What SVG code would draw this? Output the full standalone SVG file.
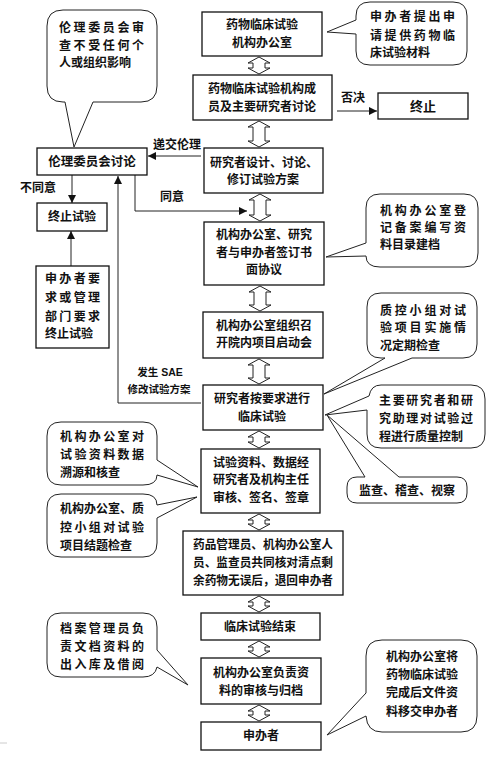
<svg xmlns="http://www.w3.org/2000/svg" width="496" height="765" viewBox="0 0 496 765">
<style>
text{font-family:"Liberation Sans","Noto Sans CJK SC",sans-serif;font-weight:bold;font-size:12px;fill:#111;dominant-baseline:central}
.c{text-anchor:middle}
.box{fill:#fff;stroke:#111;stroke-width:1.3}
.call{fill:#fff;stroke:#222;stroke-width:1}
.dbl{fill:#fff;stroke:#222;stroke-width:1}
.ln{fill:none;stroke:#222;stroke-width:1}
.sm{font-size:10.5px}
</style>
<defs>
<marker id="ah" viewBox="0 0 10 10" refX="10" refY="5" markerWidth="8" markerHeight="8" markerUnits="userSpaceOnUse" orient="auto"><path d="M0,0 L10,5 L0,10 z" fill="#111"/></marker>
<path id="dblarrow" d="M0,0 L11,6 L6,6 L6,-6 L11,-6 L0,0 Z"/>
</defs>
<rect width="496" height="765" fill="#fff"/>

<g id="connectors">
<path class="dbl" d="M259,57 L270,63 L265,63 L265,68 L270,68 L259,74 L248,68 L253,68 L253,63 L248,63 Z"/>
<path class="dbl" d="M259,121 L270,127 L265,127 L265,141 L270,141 L259,147 L248,141 L253,141 L253,127 L248,127 Z"/>
<path class="dbl" d="M260,194 L271,200 L266,200 L266,215 L271,215 L260,221 L249,215 L254,215 L254,200 L249,200 Z"/>
<path class="dbl" d="M260,286 L271,292 L266,292 L266,305 L271,305 L260,311 L249,305 L254,305 L254,292 L249,292 Z"/>
<path class="dbl" d="M259,359 L270,365 L265,365 L265,378 L270,378 L259,384 L248,378 L253,378 L253,365 L248,365 Z"/>
<path class="dbl" d="M259,431 L270,437 L265,437 L265,442 L270,442 L259,448 L248,442 L253,442 L253,437 L248,437 Z"/>
<path class="dbl" d="M259,514 L270,520 L265,520 L265,524 L270,524 L259,530 L248,524 L253,524 L253,520 L248,520 Z"/>
<path class="dbl" d="M259,596 L270,602 L265,602 L265,606 L270,606 L259,612 L248,606 L253,606 L253,602 L248,602 Z"/>
<path class="dbl" d="M259,641 L270,647 L265,647 L265,651 L270,651 L259,657 L248,651 L253,651 L253,647 L248,647 Z"/>
<path class="dbl" d="M259,705 L270,711 L265,711 L265,715 L270,715 L259,721 L248,715 L253,715 L253,711 L248,711 Z"/>

<line class="ln" x1="337" y1="111" x2="377" y2="111" marker-end="url(#ah)"/>
<line class="ln" x1="201" y1="156" x2="148" y2="156" marker-end="url(#ah)"/>
<polyline class="ln" points="135,175 135,211 247,211" marker-end="url(#ah)"/>
<line class="ln" x1="72" y1="175" x2="72" y2="203" marker-end="url(#ah)"/>
<line class="ln" x1="71" y1="266" x2="71" y2="231" marker-end="url(#ah)" stroke="#444"/>
<polyline class="ln" points="201,403 118,403 118,176" marker-end="url(#ah)"/>

<text class="c" x="353" y="98">否决</text>
<text class="c" x="177" y="145">递交伦理</text>
<text class="c" x="172" y="197">同意</text>
<text class="c" x="38" y="188">不同意</text>
<text class="c sm" x="160" y="372">发生 SAE</text>
<text class="c sm" x="159" y="389">修改试验方案</text>
</g>

<g id="n1"><rect class="box" x="202" y="12" width="120" height="44"/>
<text class="c" x="262" y="25">药物临床试验</text><text class="c" x="262" y="43">机构办公室</text></g>

<g id="n2"><rect class="box" x="193" y="75" width="139" height="45"/>
<text class="c" x="262" y="89">药物临床试验机构成</text><text class="c" x="262" y="107">员及主要研究者讨论</text></g>

<g id="n3"><rect class="box" x="378" y="93" width="90" height="26"/>
<text class="c" x="423" y="106" style="font-size:13px">终止</text></g>

<g id="n4"><rect class="box" x="204" y="148" width="119" height="45"/>
<text class="c" x="264" y="163">研究者设计、讨论、</text><text class="c" x="263" y="180">修订试验方案</text></g>

<g id="n5"><rect class="box" x="37" y="148" width="110" height="27"/>
<text class="c" x="92" y="162" style="font-size:12.5px">伦理委员会讨论</text></g>

<g id="n6"><rect class="box" x="37" y="203" width="70" height="28"/>
<text class="c" x="72" y="217">终止试验</text></g>

<g id="n7"><rect class="box" x="36" y="266" width="73" height="82"/>
<text x="45" y="279" textLength="55" lengthAdjust="spacing">申办者要</text>
<text x="45" y="298" textLength="55" lengthAdjust="spacing">求或管理</text>
<text x="45" y="317" textLength="55" lengthAdjust="spacing">部门要求</text>
<text x="45" y="334">终止试验</text></g>

<g id="n8"><rect class="box" x="204" y="222" width="120" height="63"/>
<text class="c" x="264" y="235">机构办公室、研究</text><text class="c" x="264" y="253">者与申办者签订书</text><text class="c" x="264" y="270">面协议</text></g>

<g id="n9"><rect class="box" x="203" y="312" width="120" height="46"/>
<text class="c" x="264" y="326">机构办公室组织召</text><text class="c" x="264" y="343">开院内项目启动会</text></g>

<g id="n10"><rect class="box" x="203" y="385" width="120" height="45"/>
<text class="c" x="262" y="399">研究者按要求进行</text><text class="c" x="262" y="417">临床试验</text></g>

<g id="n11"><rect class="box" x="201" y="449" width="119" height="64"/>
<text class="c" x="261" y="463">试验资料、数据经</text><text class="c" x="261" y="480">研究者及机构主任</text><text class="c" x="261" y="498">审核、签名、签章</text></g>

<g id="n12"><rect class="box" x="183" y="531" width="160" height="64"/>
<text x="193" y="545" textLength="140" lengthAdjust="spacingAndGlyphs">药品管理员、机构办公室人</text>
<text x="193" y="563" textLength="140" lengthAdjust="spacingAndGlyphs">员、监查员共同核对清点剩</text>
<text x="193" y="581" textLength="140" lengthAdjust="spacingAndGlyphs">余药物无误后，退回申办者</text></g>

<g id="n13"><rect class="box" x="201" y="613" width="119" height="27"/>
<text class="c" x="260" y="627">临床试验结束</text></g>

<g id="n14"><rect class="box" x="201" y="658" width="120" height="46"/>
<text class="c" x="261" y="673">机构办公室负责资</text><text class="c" x="261" y="691">料的审核与归档</text></g>

<g id="n15"><rect class="box" x="201" y="722" width="120" height="28"/>
<text class="c" x="261" y="736">申办者</text></g>

<g id="cA"><path class="call" d="M63,10 H141 Q157,10 157,26 V86 Q157,102 141,102 H93 L74,147 L65,102 H63 Q47,102 47,86 V26 Q47,10 63,10 Z"/>
<text x="59" y="28" textLength="85" lengthAdjust="spacing">伦理委员会审</text>
<text x="59" y="46" textLength="85" lengthAdjust="spacing">查不受任何个</text>
<text x="59" y="63">人或组织影响</text></g>

<g id="cB"><path class="call" d="M370,2 H453 Q467,2 467,16 V51 Q467,65 453,65 H370 Q356,65 356,51 V34 L327,32 L356,20 V16 Q356,2 370,2 Z"/>
<text x="370" y="17" textLength="85" lengthAdjust="spacing">申办者提出申</text>
<text x="370" y="36" textLength="85" lengthAdjust="spacing">请提供药物临</text>
<text x="370" y="53">床试验材料</text></g>

<g id="cC"><path class="call" d="M380,194 H464 Q478,194 478,208 V253 Q478,267 464,267 H380 Q366,267 366,256 L326,257 L366,243 V208 Q366,194 380,194 Z"/>
<text x="380" y="211" textLength="86" lengthAdjust="spacing">机构办公室登</text>
<text x="380" y="228" textLength="86" lengthAdjust="spacing">记备案编写资</text>
<text x="380" y="245">料目录建档</text></g>

<g id="cD"><path class="call" d="M381,293 H463 Q477,293 477,307 V344 Q477,358 463,358 H412 L324,394 L385,358 H381 Q367,358 367,344 V307 Q367,293 381,293 Z"/>
<text x="380" y="311" textLength="86" lengthAdjust="spacing">质控小组对试</text>
<text x="380" y="328" textLength="86" lengthAdjust="spacing">验项目实施情</text>
<text x="380" y="346">况定期检查</text></g>

<g id="cE"><path class="call" d="M381,385 H471 Q485,385 485,399 V434 Q485,448 471,448 H381 Q367,448 367,434 V410 L325,415 L369,396 Q371,385 381,385 Z"/>
<text x="379" y="401" textLength="94" lengthAdjust="spacing">主要研究者和研</text>
<text x="379" y="419" textLength="94" lengthAdjust="spacing">究助理对试验过</text>
<text x="379" y="437">程进行质量控制</text></g>

<g id="cF"><path class="call" d="M357,477 H365 L327,415 L399,477 H457 Q467,477 467,487 V493 Q467,503 457,503 H357 Q347,503 347,493 V487 Q347,477 357,477 Z"/>
<text class="c" x="407" y="491">监查、稽查、视察</text></g>

<g id="cG"><path class="call" d="M61,422 H143 Q157,422 157,436 V460 L198,487 L157,475 Q157,485 143,485 H61 Q47,485 47,471 V436 Q47,422 61,422 Z"/>
<text x="60" y="437" textLength="84" lengthAdjust="spacing">机构办公室对</text>
<text x="60" y="455" textLength="84" lengthAdjust="spacing">试验资料数据</text>
<text x="60" y="473">溯源和核查</text></g>

<g id="cH"><path class="call" d="M61,494 H143 Q157,494 157,505 L197,497 L157,518 V543 Q157,557 143,557 H61 Q47,557 47,543 V508 Q47,494 61,494 Z"/>
<text x="60" y="509" textLength="84" lengthAdjust="spacing">机构办公室、质</text>
<text x="60" y="528" textLength="84" lengthAdjust="spacing">控小组对试验</text>
<text x="60" y="546">项目结题检查</text></g>

<g id="cI"><path class="call" d="M61,613 H143 Q157,613 157,627 V650 L188,685 L157,667 Q155,677 143,677 H61 Q47,677 47,663 V627 Q47,613 61,613 Z"/>
<text x="60" y="629" textLength="84" lengthAdjust="spacing">档案管理员负</text>
<text x="60" y="647" textLength="84" lengthAdjust="spacing">责文档资料的</text>
<text x="60" y="665" textLength="84" lengthAdjust="spacing">出入库及借阅</text></g>

<g id="cJ"><path class="call" d="M382,640 H461 Q477,640 477,656 V716 Q477,732 461,732 H382 Q367,732 366,716 L327,735 L366,693 V656 Q366,640 382,640 Z"/>
<text class="c" x="422" y="657">机构办公室将</text>
<text class="c" x="422" y="675">药物临床试验</text>
<text class="c" x="422" y="693">完成后文件资</text>
<text class="c" x="422" y="712">料移交申办者</text></g>

<line x1="0" y1="743" x2="7" y2="743" stroke="#ccc" stroke-width="1"/>
</svg>
